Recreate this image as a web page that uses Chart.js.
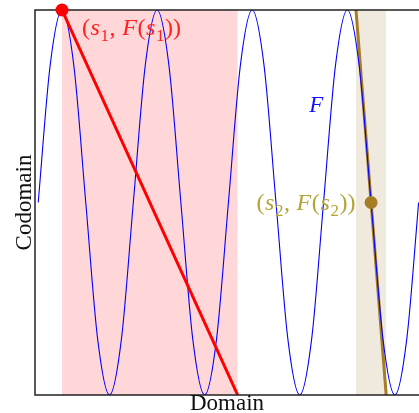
<!DOCTYPE html>
<html>
<head>
<meta charset="utf-8">
<script src="https://cdn.jsdelivr.net/npm/chart.js@4"></script>
<style>
  html, body { margin: 0; padding: 0; background: #fff; }
  canvas { display: block; }
</style>
</head>
<body>
<canvas id="domainChart" width="419" height="413"></canvas>
<script>
// F sampled every eighth of a period (four periods shown)
const sineX = [0, 1, 2, 3, 4, 5, 6, 7, 8, 9, 10, 11, 12, 13, 14, 15, 16,
               17, 18, 19, 20, 21, 22, 23, 24, 25, 26, 27, 28, 29, 30, 31, 32];
const sineY = [0, 0.71, 1, 0.71, 0, -0.71, -1, -0.71,
               0, 0.71, 1, 0.71, 0, -0.71, -1, -0.71,
               0, 0.71, 1, 0.71, 0, -0.71, -1, -0.71,
               0, 0.71, 1, 0.71, 0, -0.71, -1, -0.71, 0];

// first point and the line through it
const s1 = [2, 1];
const secantEnd = [16.78, -1];
const pinkBand = [2, 16.78];

// second point and its tangent
const s2 = [28, 0];
const tangentTop = [26.73, 1];
const tangentBottom = [29.27, -1];
const tanBand = [26.73, 29.27];

const xRange = [-0.27, 32.03];
const yRange = [-1, 1];

const serif = '"Liberation Serif", "DejaVu Serif", serif';

const pt = (p) => ({ x: p[0], y: p[1] });

// draws a small math label: 'i' italic, 'r' roman, 's' subscript
function drawMath(ctx, parts, x, y, color, size, alignRight) {
    const fontFor = (kind) => {
        if (kind === 'i') return 'italic ' + size + 'px ' + serif;
        if (kind === 's') return Math.round(size * 0.7) + 'px ' + serif;
        return size + 'px ' + serif;
    };
    const gap = 0.6;
    let total = 0;
    parts.forEach(([txt, kind]) => {
        ctx.font = fontFor(kind);
        total += ctx.measureText(txt).width + gap;
    });
    let cx = alignRight ? x - total : x;
    ctx.fillStyle = color;
    ctx.textBaseline = 'alphabetic';
    ctx.textAlign = 'left';
    parts.forEach(([txt, kind]) => {
        ctx.font = fontFor(kind);
        ctx.fillText(txt, cx, kind === 's' ? y + size * 0.25 : y);
        cx += ctx.measureText(txt).width + gap;
    });
}

const decorations = {
    id: 'decorations',
    afterDatasetDraw(chart, args) {
        if (args.index !== 1) return;
        const { ctx, chartArea: a } = chart;
        ctx.save();
        ctx.strokeStyle = '#222';
        ctx.lineWidth = 1.5;
        ctx.beginPath();
        ctx.moveTo(a.right + 2, a.top);
        ctx.lineTo(a.left, a.top);
        ctx.lineTo(a.left, a.bottom);
        ctx.lineTo(a.right + 2, a.bottom);
        ctx.stroke();
        ctx.restore();
    },
    afterDraw(chart) {
        const { ctx, chartArea: a, scales } = chart;
        const xs = scales.x, ys = scales.y;
        ctx.save();

        // axis titles
        ctx.fillStyle = '#111';
        ctx.font = '23px ' + serif;
        ctx.textAlign = 'center';
        ctx.textBaseline = 'alphabetic';
        ctx.fillText('Domain', 227, a.bottom + 15);
        ctx.save();
        ctx.translate(a.left - 4, (a.top + a.bottom) / 2);
        ctx.rotate(-Math.PI / 2);
        ctx.fillText('Codomain', 0, 0);
        ctx.restore();

        const s1x = xs.getPixelForValue(s1[0]);
        const s1y = ys.getPixelForValue(s1[1]);
        drawMath(ctx, [['(', 'r'], ['s', 'i'], ['1', 's'], [', ', 'r'], ['F', 'i'], ['(', 'r'],
                       ['s', 'i'], ['1', 's'], ['))', 'r']],
                 s1x + 20, s1y + 25, '#ff2020', 24, false);

        const s2x = xs.getPixelForValue(s2[0]);
        const s2y = ys.getPixelForValue(s2[1]);
        drawMath(ctx, [['(', 'r'], ['s', 'i'], ['2', 's'], [', ', 'r'], ['F', 'i'], ['(', 'r'],
                       ['s', 'i'], ['2', 's'], ['))', 'r']],
                 s2x - 15, s2y + 7, '#b3a43a', 24, true);

        drawMath(ctx, [['F', 'i']], xs.getPixelForValue(22.8), ys.getPixelForValue(0.47),
                 '#1010ff', 23, false);
        ctx.restore();
    }
};

new Chart(document.getElementById('domainChart'), {
    type: 'line',
    data: {
        datasets: [
            {
                label: 'points',
                data: [pt(s1), pt(s2)],
                showLine: false,
                pointRadius: 6.5,
                pointBackgroundColor: ['#ff0000', '#a67c26'],
                pointBorderWidth: 0,
                clip: false
            },
            {
                label: 'secant',
                data: [pt(s1), pt(secantEnd)],
                borderColor: '#ff0000',
                borderWidth: 3,
                pointRadius: 0
            },
            {
                label: 'F',
                data: sineX.map((x, i) => ({ x: x, y: sineY[i] })),
                borderColor: '#0000ff',
                borderWidth: 1.1,
                cubicInterpolationMode: 'monotone',
                pointRadius: 0
            },
            {
                label: 'tangent',
                data: [pt(tangentTop), pt(tangentBottom)],
                borderColor: '#a67c26',
                borderWidth: 3,
                pointRadius: 0
            },
            {
                label: 'tan band',
                data: [{ x: tanBand[0], y: 1 }, { x: tanBand[1], y: 1 }],
                fill: { value: -1 },
                backgroundColor: '#f0e9dd',
                borderWidth: 0,
                pointRadius: 0
            },
            {
                label: 'pink band',
                data: [{ x: pinkBand[0], y: 1 }, { x: pinkBand[1], y: 1 }],
                fill: { value: -1 },
                backgroundColor: '#ffd7d9',
                borderWidth: 0,
                pointRadius: 0
            }
        ]
    },
    options: {
        responsive: false,
        animation: false,
        layout: { autoPadding: false, padding: { left: 35, top: 10, right: 0, bottom: 18 } },
        plugins: {
            legend: { display: false },
            tooltip: { enabled: false }
        },
        scales: {
            x: { type: 'linear', display: false, min: xRange[0], max: xRange[1] },
            y: { type: 'linear', display: false, min: yRange[0], max: yRange[1] }
        }
    },
    plugins: [decorations]
});
</script>
</body>
</html>
